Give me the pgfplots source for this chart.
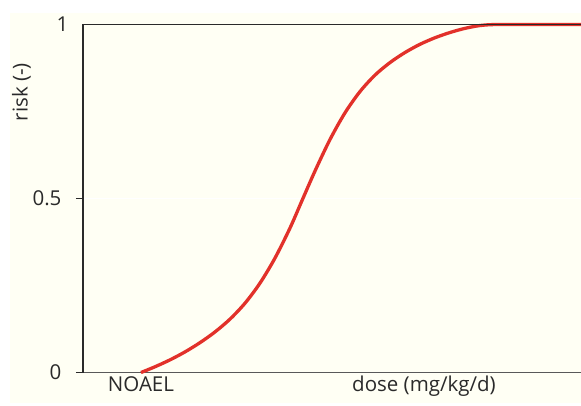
\documentclass[border=0pt]{standalone}
\usepackage{fontspec}
\setmainfont{Open Sans}
\usepackage{pgfplots}
\pgfplotsset{compat=1.18}
\definecolor{cream}{HTML}{FFFFF4}
\definecolor{curvered}{HTML}{E2312A}
\definecolor{axisgray}{HTML}{2A2A2A}

\begin{document}
\begin{tikzpicture}[x=1pt,y=1pt]
\fill[cream] (-73,-30.5) rectangle (498,359.5);
\begin{axis}[
    at={(0,0)}, anchor=south west,
    scale only axis,
    width=507pt, height=348pt,
    xmin=83, xmax=590,
    ymin=0, ymax=1,
    axis lines*=left,
    axis line style={-},
    x axis line style={draw=black!65, line width=1.6pt},
    y axis line style={draw=axisgray, line width=1.2pt},
    ytick={0,0.5},
    yticklabels={0,0.5},
    extra y ticks={1},
    extra y tick labels={1},
    extra y tick style={major tick length=0pt, ymajorgrids=false},
    ymajorgrids,
    grid style={white, line width=1pt},
    tick align=outside,
    major tick length=7pt,
    ytick style={draw=axisgray, line width=1pt},
    xtick={141},
    xticklabels={NOAEL},
    extra x ticks={424},
    extra x tick labels={dose (mg/kg/d)},
    xtick style={draw=none},
    extra x tick style={xtick style={draw=none}},
    tick label style={font=\fontsize{20.5}{24}\selectfont, text=axisgray},
    xticklabel style={text height=15pt, text depth=4pt, anchor=north, yshift=7pt},
    yticklabel style={anchor=east, xshift=-11pt},
    ylabel={risk (-)},
    label style={font=\fontsize{20.5}{24}\selectfont, text=axisgray},
    ylabel style={at={(axis description cs:-0.1213,0.806)}, anchor=center},
    clip=false,
]
\addplot[curvered, line width=3.3pt, smooth] coordinates {
    (141,0) (155,0.0165) (170,0.0363) (185,0.0592) (200,0.0858)
    (215,0.1166) (230,0.1534) (245,0.1991) (260,0.2569) (275,0.3289)
    (290,0.4151) (302,0.4940) (315,0.5790) (330,0.6695) (345,0.7462)
    (360,0.8073) (375,0.8546) (390,0.8906) (405,0.9195) (420,0.9431)
    (435,0.9619) (450,0.9770) (465,0.9889) (480,0.9970) (497,1)
    (540,1) (590,1)
};
\end{axis}
\draw[axisgray, line width=1.1pt] (0,348) -- (507,348);
\pgfresetboundingbox
\useasboundingbox (-83,-32.5) rectangle (498,372.5);
\end{tikzpicture}
\end{document}
